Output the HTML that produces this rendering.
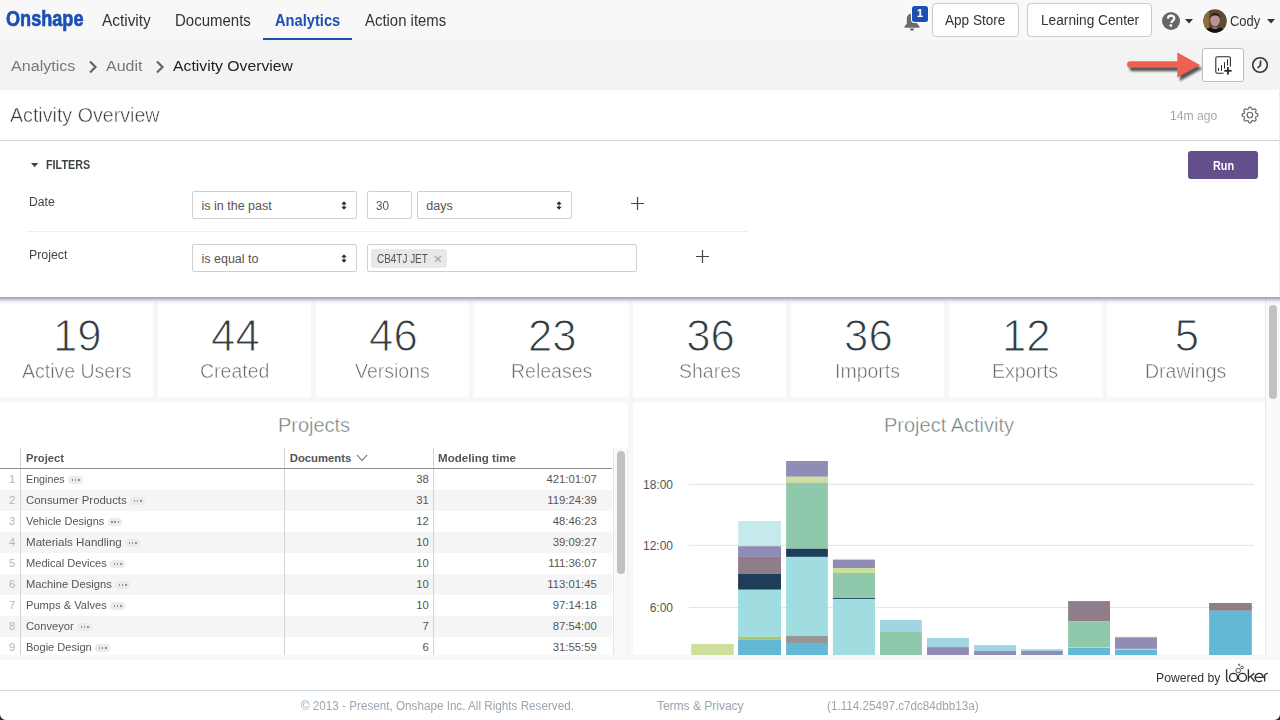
<!DOCTYPE html>
<html><head><meta charset="utf-8"><style>
html,body{margin:0;padding:0}
body{width:1280px;height:720px;overflow:hidden;position:relative;background:#fff;font-family:"Liberation Sans",sans-serif}
.t{position:absolute;white-space:nowrap;line-height:1;transform-origin:0 0}
.r{position:absolute}
</style></head><body>
<div class="r" style="left:0px;top:0px;width:1280px;height:40px;background:#f8f8f8;"></div>
<div class="r" style="left:0px;top:40px;width:1280px;height:50px;background:#f3f3f3;"></div>
<div class="r" style="left:0px;top:90px;width:1280px;height:50px;background:#fff;"></div>
<div class="r" style="left:0px;top:140px;width:1280px;height:1px;background:#ced2d6;"></div>
<div class="r" style="left:0px;top:141px;width:1280px;height:156px;background:#fff;"></div>
<div class="r" style="left:0px;top:297px;width:1280px;height:363px;background:#f6f7f9;"></div>
<div class="r" style="left:0px;top:660px;width:1280px;height:60px;background:#fff;"></div>
<div class="r" style="left:0px;top:690px;width:1280px;height:1px;background:#cdd8e1;"></div>
<div class="t" style="left:6.30px;top:7.65px;font-size:22.5px;color:#1b4fb4;font-weight:bold;transform:scaleX(0.8050);-webkit-text-stroke:0.7px #1b4fb4;">Onshape</div>
<div class="t" style="left:102.25px;top:12.71px;font-size:16px;color:#333;transform:scaleX(0.9621);">Activity</div>
<div class="t" style="left:174.60px;top:12.71px;font-size:16px;color:#333;transform:scaleX(0.9367);">Documents</div>
<div class="t" style="left:275.00px;top:12.71px;font-size:16px;color:#1b4fb4;font-weight:bold;transform:scaleX(0.9165);">Analytics</div>
<div class="r" style="left:263px;top:38px;width:89px;height:2px;background:#1b4fb4;"></div>
<div class="t" style="left:365.20px;top:12.71px;font-size:16px;color:#333;transform:scaleX(0.9318);">Action items</div>
<svg class="r" style="left:902px;top:11px" width="20" height="20" viewBox="0 0 20 20"><path d="M10 2.5c-3.2 0-5.2 2.4-5.2 5.6v4.6L2.5 15.6v1.2h15v-1.2l-2.3-2.9V8.1C15.2 4.9 13.2 2.5 10 2.5z" fill="#6b6b6b"/><path d="M7.8 17.6a2.2 2.2 0 0 0 4.4 0z" fill="#6b6b6b"/></svg>
<div class="r" style="left:912px;top:6px;width:16px;height:16px;background:#1b4fb4;border-radius:2.5px;box-shadow:0 0 0 1px #fff"></div>
<div class="t" style="left:916.64px;top:7.79px;font-size:11px;color:#fff;font-weight:bold;">1</div>
<div class="r" style="left:932px;top:3px;width:85px;height:32px;border:1px solid #c9c9c9;border-radius:4px;background:#fff"></div>
<div class="t" style="left:945.25px;top:13.15px;font-size:14px;color:#333;transform:scaleX(0.9701);">App Store</div>
<div class="r" style="left:1027px;top:3px;width:123px;height:32px;border:1px solid #c9c9c9;border-radius:4px;background:#fff"></div>
<div class="t" style="left:1040.60px;top:13.15px;font-size:14px;color:#333;transform:scaleX(0.9771);">Learning Center</div>
<svg class="r" style="left:1162px;top:12px" width="18" height="18" viewBox="0 0 18 18"><circle cx="9" cy="9" r="9" fill="#666"/><path d="M5.9 6.6C6 4.7 7.3 3.6 9.1 3.6c1.9 0 3.2 1.1 3.2 2.7 0 1.3-.8 2-1.7 2.6-.8.5-1 .8-1 1.6v.5" fill="none" stroke="#fff" stroke-width="2.2"/><rect x="7.5" y="12.2" width="2.6" height="2.5" rx="0.6" fill="#fff"/></svg>
<svg class="r" style="left:1185px;top:18.5px" width="8" height="5"><path d="M0 0h8L4 4.5z" fill="#333"/></svg>
<svg class="r" style="left:1202px;top:8px" width="26" height="26" viewBox="-1 -1 26 26"><defs><clipPath id="av"><circle cx="12" cy="12" r="11.8"/></clipPath><filter id="bl"><feGaussianBlur stdDeviation="0.6"/></filter></defs><circle cx="12" cy="12" r="12.6" fill="#fff"/><g clip-path="url(#av)"><rect x="-1" y="-1" width="26" height="26" fill="#5f4a33"/><g filter="url(#bl)"><rect x="1" y="0" width="5" height="24" fill="#8e6c40"/><ellipse cx="12" cy="11.5" rx="4.8" ry="6.2" fill="#b89590"/><path d="M7 9c0-3.2 2.2-5 5-5s5 1.8 5 5c-1.2-1.8-3-2.4-5-2.4S8.2 7.2 7 9z" fill="#2a201d"/><path d="M7.6 13c.8 3.2 2.4 4.6 4.4 4.6s3.6-1.4 4.4-4.6c.2 3.4-1.8 5.6-4.4 5.6s-4.6-2.2-4.4-5.6z" fill="#5a4540"/><path d="M9.5 18.5h5l.3 1.5h-5.6z" fill="#b59a8c"/></g><path d="M0 25c.6-4 4-6.2 8-6.6 1.2 1 2.5 1.4 4 1.4s2.8-.4 4-1.4c4 .4 7.4 2.6 8 6.6z" fill="#141414"/></g></svg>
<div class="t" style="left:1230.30px;top:13.95px;font-size:14px;color:#333;transform:scaleX(0.9241);">Cody</div>
<svg class="r" style="left:1267px;top:18.5px" width="8" height="5"><path d="M0 0h8L4 4.5z" fill="#333"/></svg>
<div class="t" style="left:10.60px;top:58.08px;font-size:15.5px;color:#777;transform:scaleX(1.0383);">Analytics</div>
<svg class="r" style="left:88px;top:60px" width="10" height="14"><path d="M2 1.5l5.5 5.5L2 12.5" fill="none" stroke="#666" stroke-width="2.2"/></svg>
<div class="t" style="left:105.60px;top:58.08px;font-size:15.5px;color:#777;transform:scaleX(1.0303);">Audit</div>
<svg class="r" style="left:155px;top:60px" width="10" height="14"><path d="M2 1.5l5.5 5.5L2 12.5" fill="none" stroke="#666" stroke-width="2.2"/></svg>
<div class="t" style="left:172.75px;top:58.08px;font-size:15.5px;color:#222;transform:scaleX(1.0170);">Activity Overview</div>
<svg class="r" style="left:1120px;top:46px" width="90" height="40" viewBox="1120 46 90 40"><defs><filter id="sh" x="-20%" y="-50%" width="140%" height="200%"><feGaussianBlur stdDeviation="1.3"/></filter></defs>
<g transform="translate(2.5,3.5)" filter="url(#sh)" opacity="0.75"><path d="M1130.3 61.3H1177.3V52.5L1200 65L1177.3 77.5V67.8H1130.3A3.25 3.25 0 0 1 1130.3 61.3Z" fill="#222"/></g>
<path d="M1130.3 61.3H1177.3V52.5L1200 65L1177.3 77.5V67.8H1130.3A3.25 3.25 0 0 1 1130.3 61.3Z" fill="#ee6150"/></svg>
<div class="r" style="left:1202px;top:48px;width:40px;height:32px;border:1px solid #bdbdbd;border-radius:3px;background:#fff"></div>
<svg class="r" style="left:1212px;top:53px" width="24" height="24" viewBox="1212 53 24 24"><path d="M1223.6 73.2H1217.3A1.5 1.5 0 0 1 1215.8 71.7V58.3A1.5 1.5 0 0 1 1217.3 56.8H1228.9A1.5 1.5 0 0 1 1230.4 58.3V66.6" fill="none" stroke="#2a2a2a" stroke-width="1.1"/><g fill="#2a2a2a"><rect x="1218" y="68" width="1" height="3"/><rect x="1221" y="65.2" width="1" height="5.8"/><rect x="1224" y="62.2" width="1" height="6.4"/><rect x="1227" y="59.2" width="1" height="6.4"/><rect x="1224.3" y="69.9" width="7.3" height="1.8"/><rect x="1227" y="67.1" width="1.8" height="7.5"/></g></svg>
<svg class="r" style="left:1251px;top:56px" width="18" height="18" viewBox="0 0 18 18"><circle cx="9" cy="9" r="7.3" fill="none" stroke="#333" stroke-width="1.6"/><path d="M9.6 4.5L9.4 9.3L6.6 12" fill="none" stroke="#333" stroke-width="1.6"/></svg>
<div class="t" style="left:9.80px;top:105.07px;font-size:20px;color:#353d41;transform:scaleX(0.9819);-webkit-text-stroke:0.45px #fff;">Activity Overview</div>
<div class="t" style="left:1170.40px;top:109.52px;font-size:12.5px;color:#888;transform:scaleX(0.9724);-webkit-text-stroke:0.2px #fff;">14m ago</div>
<svg class="r" style="left:1240px;top:105px" width="20" height="20" viewBox="1240 105 20 20"><path d="M1250.00 107.15 L1250.31 107.16 L1250.61 107.19 L1250.92 107.26 L1251.19 107.50 L1251.37 108.13 L1251.49 108.78 L1251.68 109.03 L1251.90 109.14 L1252.13 109.23 L1252.35 109.32 L1252.58 109.41 L1252.80 109.51 L1253.03 109.59 L1253.34 109.54 L1253.89 109.18 L1254.47 108.85 L1254.83 108.88 L1255.09 109.04 L1255.33 109.24 L1255.55 109.45 L1255.76 109.67 L1255.96 109.91 L1256.12 110.17 L1256.15 110.53 L1255.82 111.11 L1255.46 111.66 L1255.41 111.97 L1255.49 112.20 L1255.59 112.42 L1255.68 112.65 L1255.77 112.87 L1255.86 113.10 L1255.97 113.32 L1256.22 113.51 L1256.87 113.63 L1257.50 113.81 L1257.74 114.08 L1257.81 114.39 L1257.84 114.69 L1257.85 115.00 L1257.84 115.31 L1257.81 115.61 L1257.74 115.92 L1257.50 116.19 L1256.87 116.37 L1256.22 116.49 L1255.97 116.68 L1255.86 116.90 L1255.77 117.13 L1255.68 117.35 L1255.59 117.58 L1255.49 117.80 L1255.41 118.03 L1255.46 118.34 L1255.82 118.89 L1256.15 119.47 L1256.12 119.83 L1255.96 120.09 L1255.76 120.33 L1255.55 120.55 L1255.33 120.76 L1255.09 120.96 L1254.83 121.12 L1254.47 121.15 L1253.89 120.82 L1253.34 120.46 L1253.03 120.41 L1252.80 120.49 L1252.58 120.59 L1252.35 120.68 L1252.13 120.77 L1251.90 120.86 L1251.68 120.97 L1251.49 121.22 L1251.37 121.87 L1251.19 122.50 L1250.92 122.74 L1250.61 122.81 L1250.31 122.84 L1250.00 122.85 L1249.69 122.84 L1249.39 122.81 L1249.08 122.74 L1248.81 122.50 L1248.63 121.87 L1248.51 121.22 L1248.32 120.97 L1248.10 120.86 L1247.87 120.77 L1247.65 120.68 L1247.42 120.59 L1247.20 120.49 L1246.97 120.41 L1246.66 120.46 L1246.11 120.82 L1245.53 121.15 L1245.17 121.12 L1244.91 120.96 L1244.67 120.76 L1244.45 120.55 L1244.24 120.33 L1244.04 120.09 L1243.88 119.83 L1243.85 119.47 L1244.18 118.89 L1244.54 118.34 L1244.59 118.03 L1244.51 117.80 L1244.41 117.58 L1244.32 117.35 L1244.23 117.13 L1244.14 116.90 L1244.03 116.68 L1243.78 116.49 L1243.13 116.37 L1242.50 116.19 L1242.26 115.92 L1242.19 115.61 L1242.16 115.31 L1242.15 115.00 L1242.16 114.69 L1242.19 114.39 L1242.26 114.08 L1242.50 113.81 L1243.13 113.63 L1243.78 113.51 L1244.03 113.32 L1244.14 113.10 L1244.23 112.87 L1244.32 112.65 L1244.41 112.42 L1244.51 112.20 L1244.59 111.97 L1244.54 111.66 L1244.18 111.11 L1243.85 110.53 L1243.88 110.17 L1244.04 109.91 L1244.24 109.67 L1244.45 109.45 L1244.67 109.24 L1244.91 109.04 L1245.17 108.88 L1245.53 108.85 L1246.11 109.18 L1246.66 109.54 L1246.97 109.59 L1247.20 109.51 L1247.42 109.41 L1247.65 109.32 L1247.87 109.23 L1248.10 109.14 L1248.32 109.03 L1248.51 108.78 L1248.63 108.13 L1248.81 107.50 L1249.08 107.26 L1249.39 107.19 L1249.69 107.16Z" fill="none" stroke="#6f6868" stroke-width="1.2"/><circle cx="1249.9" cy="115" r="2.75" fill="none" stroke="#6f6868" stroke-width="1.2"/></svg>
<svg class="r" style="left:31px;top:163px" width="8" height="5"><path d="M0 0h7.2L3.6 4.2z" fill="#3d4549"/></svg>
<div class="t" style="left:46.20px;top:158.84px;font-size:12px;color:#3d4549;font-weight:bold;transform:scaleX(0.9000);">FILTERS</div>
<div class="r" style="left:1188px;top:151px;width:70px;height:28px;border-radius:3px;background:#634f8b"></div>
<div class="t" style="left:1212.50px;top:160.42px;font-size:12.5px;color:#fff;font-weight:bold;transform:scaleX(0.8684);">Run</div>
<div class="t" style="left:29.40px;top:195.72px;font-size:12.5px;color:#3d4549;transform:scaleX(0.9772);">Date</div>
<div class="t" style="left:29.40px;top:248.92px;font-size:12.5px;color:#3d4549;transform:scaleX(0.9871);">Project</div>
<div class="r" style="left:27px;top:231px;width:721px;height:1px;background:#eeeeee;"></div>
<div class="r" style="left:192px;top:191px;width:163px;height:26px;border:1px solid #cfcfcf;border-radius:2px;background:#fff"></div>
<div class="t" style="left:201.50px;top:200.22px;font-size:12.5px;color:#555;">is in the past</div>
<svg class="r" style="left:340.5px;top:201px" width="6" height="9"><path d="M3 0.3L5.6 3.2H0.4zM3 8.7L5.6 5.8H0.4z" fill="#222"/><rect x="2.5" y="3" width="1" height="3" fill="#222"/></svg>
<div class="r" style="left:367px;top:191px;width:43px;height:26px;border:1px solid #cfcfcf;border-radius:2px;background:#fff"></div>
<div class="t" style="left:376.00px;top:200.22px;font-size:12.5px;color:#555;transform:scaleX(0.9350);">30</div>
<div class="r" style="left:417px;top:191px;width:153px;height:26px;border:1px solid #cfcfcf;border-radius:2px;background:#fff"></div>
<div class="t" style="left:426.25px;top:200.22px;font-size:12.5px;color:#555;">days</div>
<svg class="r" style="left:555.5px;top:201px" width="6" height="9"><path d="M3 0.3L5.6 3.2H0.4zM3 8.7L5.6 5.8H0.4z" fill="#222"/><rect x="2.5" y="3" width="1" height="3" fill="#222"/></svg>
<svg class="r" style="left:631px;top:197px" width="13" height="13"><path d="M6.5 0v13M0 6.5h13" stroke="#444" stroke-width="1.2"/></svg>
<div class="r" style="left:192px;top:244px;width:163px;height:26px;border:1px solid #cfcfcf;border-radius:2px;background:#fff"></div>
<div class="t" style="left:201.50px;top:253.22px;font-size:12.5px;color:#555;">is equal to</div>
<svg class="r" style="left:340.5px;top:254px" width="6" height="9"><path d="M3 0.3L5.6 3.2H0.4zM3 8.7L5.6 5.8H0.4z" fill="#222"/><rect x="2.5" y="3" width="1" height="3" fill="#222"/></svg>
<div class="r" style="left:367px;top:244px;width:268px;height:26px;border:1px solid #cfcfcf;border-radius:2px;background:#fff"></div>
<div class="r" style="left:371px;top:248.5px;width:75.5px;height:19.5px;border-radius:3px;background:#e8e8ea"></div>
<div class="t" style="left:377.20px;top:252.84px;font-size:12px;color:#555;transform:scaleX(0.8281);">CB4TJ JET</div>
<svg class="r" style="left:433.5px;top:254.8px" width="8" height="8"><path d="M1 1l6 6M7 1l-6 6" stroke="#aaa" stroke-width="1.3"/></svg>
<svg class="r" style="left:696px;top:250px" width="13" height="13"><path d="M6.5 0v13M0 6.5h13" stroke="#444" stroke-width="1.2"/></svg>
<div class="r" style="left:1279px;top:90px;width:1px;height:207px;background:#ececec;"></div>
<div class="r" style="z-index:5;left:0;top:297px;width:1280px;height:9px;background:linear-gradient(rgba(135,144,162,0.82) 0,rgba(135,144,162,0.7) 1.2px,rgba(135,144,162,0.42) 2.8px,rgba(135,144,162,0.15) 4.5px,rgba(135,144,162,0.04) 6.5px,rgba(135,144,162,0) 9px)"></div>
<div class="r" style="left:0px;top:297px;width:152.8px;height:100px;background:#fff;"></div>
<div class="r" style="left:157.6px;top:297px;width:153.8px;height:100px;background:#fff;"></div>
<div class="r" style="left:315.8px;top:297px;width:153.4px;height:100px;background:#fff;"></div>
<div class="r" style="left:473.9px;top:297px;width:155.1px;height:100px;background:#fff;"></div>
<div class="r" style="left:633px;top:297px;width:153.1px;height:100px;background:#fff;"></div>
<div class="r" style="left:790.8px;top:297px;width:153.4px;height:100px;background:#fff;"></div>
<div class="r" style="left:948.6px;top:297px;width:153.6px;height:100px;background:#fff;"></div>
<div class="r" style="left:1106.8px;top:297px;width:158.2px;height:100px;background:#fff;"></div>
<div class="t" style="left:53.00px;top:314.01px;font-size:43.7px;color:#333b3f;-webkit-text-stroke:1.05px #fff;">19</div>
<div class="t" style="left:21.68px;top:360.87px;font-size:20px;color:#656d71;transform:scaleX(0.9750);-webkit-text-stroke:0.5px #fff;">Active Users</div>
<div class="t" style="left:211.10px;top:314.01px;font-size:43.7px;color:#333b3f;-webkit-text-stroke:1.05px #fff;">44</div>
<div class="t" style="left:199.81px;top:360.87px;font-size:20px;color:#656d71;transform:scaleX(0.9750);-webkit-text-stroke:0.5px #fff;">Created</div>
<div class="t" style="left:369.10px;top:314.01px;font-size:43.7px;color:#333b3f;-webkit-text-stroke:1.05px #fff;">46</div>
<div class="t" style="left:355.10px;top:360.87px;font-size:20px;color:#656d71;transform:scaleX(0.9750);-webkit-text-stroke:0.5px #fff;">Versions</div>
<div class="t" style="left:528.05px;top:314.01px;font-size:43.7px;color:#333b3f;-webkit-text-stroke:1.05px #fff;">23</div>
<div class="t" style="left:510.80px;top:360.87px;font-size:20px;color:#656d71;transform:scaleX(0.9750);-webkit-text-stroke:0.5px #fff;">Releases</div>
<div class="t" style="left:686.15px;top:314.01px;font-size:43.7px;color:#333b3f;-webkit-text-stroke:1.05px #fff;">36</div>
<div class="t" style="left:678.66px;top:360.87px;font-size:20px;color:#656d71;transform:scaleX(0.9750);-webkit-text-stroke:0.5px #fff;">Shares</div>
<div class="t" style="left:844.10px;top:314.01px;font-size:43.7px;color:#333b3f;-webkit-text-stroke:1.05px #fff;">36</div>
<div class="t" style="left:834.99px;top:360.87px;font-size:20px;color:#656d71;transform:scaleX(0.9750);-webkit-text-stroke:0.5px #fff;">Imports</div>
<div class="t" style="left:1002.00px;top:314.01px;font-size:43.7px;color:#333b3f;-webkit-text-stroke:1.05px #fff;">12</div>
<div class="t" style="left:992.35px;top:360.87px;font-size:20px;color:#656d71;transform:scaleX(0.9750);-webkit-text-stroke:0.5px #fff;">Exports</div>
<div class="t" style="left:1174.65px;top:314.01px;font-size:43.7px;color:#333b3f;-webkit-text-stroke:1.05px #fff;">5</div>
<div class="t" style="left:1145.26px;top:360.87px;font-size:20px;color:#656d71;transform:scaleX(0.9750);-webkit-text-stroke:0.5px #fff;">Drawings</div>
<div class="r" style="left:0px;top:297px;width:1265px;height:4.5px;background:#fff;"></div>
<div class="r" style="left:0px;top:402px;width:628px;height:253px;background:#fff;"></div>
<div class="r" style="left:633px;top:402px;width:632px;height:253px;background:#fff;"></div>
<div class="t" style="left:277.88px;top:415.32px;font-size:20px;color:#6f777b;-webkit-text-stroke:0.45px #fff;">Projects</div>
<div class="t" style="left:883.98px;top:414.97px;font-size:20px;color:#6f777b;-webkit-text-stroke:0.45px #fff;">Project Activity</div>
<div class="r" style="left:20px;top:448px;width:1px;height:207px;background:#d4d4d4;"></div>
<div class="r" style="left:284px;top:448px;width:1px;height:207px;background:#d4d4d4;"></div>
<div class="r" style="left:433px;top:448px;width:1px;height:207px;background:#d4d4d4;"></div>
<div class="r" style="left:0px;top:468px;width:612px;height:1px;background:#8e8e8e;"></div>
<div class="t" style="left:25.70px;top:453.13px;font-size:11.3px;color:#555;font-weight:bold;transform:scaleX(0.9919);">Project</div>
<div class="t" style="left:289.75px;top:453.03px;font-size:11.3px;color:#555;font-weight:bold;">Documents</div>
<svg class="r" style="left:356px;top:454px" width="12" height="8"><path d="M1 1l5 5.5L11 1" fill="none" stroke="#666" stroke-width="1.1"/></svg>
<div class="t" style="left:438.40px;top:453.03px;font-size:11.3px;color:#555;font-weight:bold;transform:scaleX(1.0268);">Modeling time</div>
<div class="r" style="left:0px;top:490px;width:20px;height:21px;background:#f5f5f5;"></div>
<div class="r" style="left:21px;top:490px;width:263px;height:21px;background:#f5f5f5;"></div>
<div class="r" style="left:285px;top:490px;width:148px;height:21px;background:#f5f5f5;"></div>
<div class="r" style="left:434px;top:490px;width:178px;height:21px;background:#f5f5f5;"></div>
<div class="r" style="left:0px;top:532px;width:20px;height:21px;background:#f5f5f5;"></div>
<div class="r" style="left:21px;top:532px;width:263px;height:21px;background:#f5f5f5;"></div>
<div class="r" style="left:285px;top:532px;width:148px;height:21px;background:#f5f5f5;"></div>
<div class="r" style="left:434px;top:532px;width:178px;height:21px;background:#f5f5f5;"></div>
<div class="r" style="left:0px;top:574px;width:20px;height:21px;background:#f5f5f5;"></div>
<div class="r" style="left:21px;top:574px;width:263px;height:21px;background:#f5f5f5;"></div>
<div class="r" style="left:285px;top:574px;width:148px;height:21px;background:#f5f5f5;"></div>
<div class="r" style="left:434px;top:574px;width:178px;height:21px;background:#f5f5f5;"></div>
<div class="r" style="left:0px;top:616px;width:20px;height:21px;background:#f5f5f5;"></div>
<div class="r" style="left:21px;top:616px;width:263px;height:21px;background:#f5f5f5;"></div>
<div class="r" style="left:285px;top:616px;width:148px;height:21px;background:#f5f5f5;"></div>
<div class="r" style="left:434px;top:616px;width:178px;height:21px;background:#f5f5f5;"></div>
<div class="t" style="left:9.12px;top:474.13px;font-size:11.3px;color:#b5b5b5;">1</div>
<div class="t" style="left:25.50px;top:473.97px;font-size:11.5px;color:#555;transform:scaleX(0.9312);">Engines</div>
<div class="r" style="left:68.0px;top:476.3px;width:14.6px;height:7.5px;border-radius:4px;background:#ebebeb"></div>
<div class="r" style="left:71.5px;top:479.4px;width:1.6px;height:1.6px;background:#939393"></div>
<div class="r" style="left:74.8px;top:479.4px;width:1.6px;height:1.6px;background:#939393"></div>
<div class="r" style="left:78.1px;top:479.4px;width:1.6px;height:1.6px;background:#939393"></div>
<div class="t" style="left:416.33px;top:474.13px;font-size:11.3px;color:#555;">38</div>
<div class="t" style="left:546.53px;top:474.13px;font-size:11.3px;color:#555;">421:01:07</div>
<div class="t" style="left:9.12px;top:495.13px;font-size:11.3px;color:#b5b5b5;">2</div>
<div class="t" style="left:25.50px;top:494.97px;font-size:11.5px;color:#555;transform:scaleX(0.9909);">Consumer Products</div>
<div class="r" style="left:130.0px;top:497.3px;width:14.6px;height:7.5px;border-radius:4px;background:#ebebeb"></div>
<div class="r" style="left:133.5px;top:500.4px;width:1.6px;height:1.6px;background:#939393"></div>
<div class="r" style="left:136.8px;top:500.4px;width:1.6px;height:1.6px;background:#939393"></div>
<div class="r" style="left:140.1px;top:500.4px;width:1.6px;height:1.6px;background:#939393"></div>
<div class="t" style="left:416.33px;top:495.13px;font-size:11.3px;color:#555;">31</div>
<div class="t" style="left:547.37px;top:495.13px;font-size:11.3px;color:#555;">119:24:39</div>
<div class="t" style="left:9.12px;top:516.13px;font-size:11.3px;color:#b5b5b5;">3</div>
<div class="t" style="left:25.50px;top:515.97px;font-size:11.5px;color:#555;transform:scaleX(0.9563);">Vehicle Designs</div>
<div class="r" style="left:107.5px;top:518.3px;width:14.6px;height:7.5px;border-radius:4px;background:#ebebeb"></div>
<div class="r" style="left:111.0px;top:521.4px;width:1.6px;height:1.6px;background:#939393"></div>
<div class="r" style="left:114.3px;top:521.4px;width:1.6px;height:1.6px;background:#939393"></div>
<div class="r" style="left:117.6px;top:521.4px;width:1.6px;height:1.6px;background:#939393"></div>
<div class="t" style="left:416.33px;top:516.13px;font-size:11.3px;color:#555;">12</div>
<div class="t" style="left:552.81px;top:516.13px;font-size:11.3px;color:#555;">48:46:23</div>
<div class="t" style="left:9.12px;top:537.13px;font-size:11.3px;color:#b5b5b5;">4</div>
<div class="t" style="left:25.50px;top:536.97px;font-size:11.5px;color:#555;transform:scaleX(1.0053);">Materials Handling</div>
<div class="r" style="left:125.0px;top:539.3px;width:14.6px;height:7.5px;border-radius:4px;background:#ebebeb"></div>
<div class="r" style="left:128.6px;top:542.4px;width:1.6px;height:1.6px;background:#939393"></div>
<div class="r" style="left:131.9px;top:542.4px;width:1.6px;height:1.6px;background:#939393"></div>
<div class="r" style="left:135.2px;top:542.4px;width:1.6px;height:1.6px;background:#939393"></div>
<div class="t" style="left:416.33px;top:537.13px;font-size:11.3px;color:#555;">10</div>
<div class="t" style="left:552.81px;top:537.13px;font-size:11.3px;color:#555;">39:09:27</div>
<div class="t" style="left:9.12px;top:558.13px;font-size:11.3px;color:#b5b5b5;">5</div>
<div class="t" style="left:25.50px;top:557.97px;font-size:11.5px;color:#555;transform:scaleX(0.9645);">Medical Devices</div>
<div class="r" style="left:110.0px;top:560.3px;width:14.6px;height:7.5px;border-radius:4px;background:#ebebeb"></div>
<div class="r" style="left:113.5px;top:563.4px;width:1.6px;height:1.6px;background:#939393"></div>
<div class="r" style="left:116.8px;top:563.4px;width:1.6px;height:1.6px;background:#939393"></div>
<div class="r" style="left:120.1px;top:563.4px;width:1.6px;height:1.6px;background:#939393"></div>
<div class="t" style="left:416.33px;top:558.13px;font-size:11.3px;color:#555;">10</div>
<div class="t" style="left:548.21px;top:558.13px;font-size:11.3px;color:#555;">111:36:07</div>
<div class="t" style="left:9.12px;top:579.13px;font-size:11.3px;color:#b5b5b5;">6</div>
<div class="t" style="left:25.50px;top:578.97px;font-size:11.5px;color:#555;transform:scaleX(0.9721);">Machine Designs</div>
<div class="r" style="left:115.0px;top:581.3px;width:14.6px;height:7.5px;border-radius:4px;background:#ebebeb"></div>
<div class="r" style="left:118.5px;top:584.4px;width:1.6px;height:1.6px;background:#939393"></div>
<div class="r" style="left:121.8px;top:584.4px;width:1.6px;height:1.6px;background:#939393"></div>
<div class="r" style="left:125.1px;top:584.4px;width:1.6px;height:1.6px;background:#939393"></div>
<div class="t" style="left:416.33px;top:579.13px;font-size:11.3px;color:#555;">10</div>
<div class="t" style="left:547.37px;top:579.13px;font-size:11.3px;color:#555;">113:01:45</div>
<div class="t" style="left:9.12px;top:600.13px;font-size:11.3px;color:#b5b5b5;">7</div>
<div class="t" style="left:25.50px;top:599.97px;font-size:11.5px;color:#555;transform:scaleX(0.9669);">Pumps &amp; Valves</div>
<div class="r" style="left:110.0px;top:602.3px;width:14.6px;height:7.5px;border-radius:4px;background:#ebebeb"></div>
<div class="r" style="left:113.5px;top:605.4px;width:1.6px;height:1.6px;background:#939393"></div>
<div class="r" style="left:116.8px;top:605.4px;width:1.6px;height:1.6px;background:#939393"></div>
<div class="r" style="left:120.1px;top:605.4px;width:1.6px;height:1.6px;background:#939393"></div>
<div class="t" style="left:416.33px;top:600.13px;font-size:11.3px;color:#555;">10</div>
<div class="t" style="left:552.81px;top:600.13px;font-size:11.3px;color:#555;">97:14:18</div>
<div class="t" style="left:9.12px;top:621.13px;font-size:11.3px;color:#b5b5b5;">8</div>
<div class="t" style="left:25.50px;top:620.97px;font-size:11.5px;color:#555;transform:scaleX(0.9702);">Conveyor</div>
<div class="r" style="left:77.0px;top:623.3px;width:14.6px;height:7.5px;border-radius:4px;background:#ebebeb"></div>
<div class="r" style="left:80.5px;top:626.4px;width:1.6px;height:1.6px;background:#939393"></div>
<div class="r" style="left:83.8px;top:626.4px;width:1.6px;height:1.6px;background:#939393"></div>
<div class="r" style="left:87.1px;top:626.4px;width:1.6px;height:1.6px;background:#939393"></div>
<div class="t" style="left:422.62px;top:621.13px;font-size:11.3px;color:#555;">7</div>
<div class="t" style="left:552.81px;top:621.13px;font-size:11.3px;color:#555;">87:54:00</div>
<div class="t" style="left:9.12px;top:642.13px;font-size:11.3px;color:#b5b5b5;">9</div>
<div class="t" style="left:25.50px;top:641.97px;font-size:11.5px;color:#555;transform:scaleX(0.9612);">Bogie Design</div>
<div class="r" style="left:95.0px;top:644.3px;width:14.6px;height:7.5px;border-radius:4px;background:#ebebeb"></div>
<div class="r" style="left:98.5px;top:647.4px;width:1.6px;height:1.6px;background:#939393"></div>
<div class="r" style="left:101.8px;top:647.4px;width:1.6px;height:1.6px;background:#939393"></div>
<div class="r" style="left:105.1px;top:647.4px;width:1.6px;height:1.6px;background:#939393"></div>
<div class="t" style="left:422.62px;top:642.13px;font-size:11.3px;color:#555;">6</div>
<div class="t" style="left:552.81px;top:642.13px;font-size:11.3px;color:#555;">31:55:59</div>
<div class="r" style="left:613px;top:448px;width:15px;height:207px;background:#f9f9f9;"></div>
<div class="r" style="left:613px;top:448px;width:1px;height:207px;background:#e6e6e6;"></div>
<div class="r" style="left:627px;top:448px;width:1px;height:207px;background:#efefef;"></div>
<div class="r" style="left:617.2px;top:450.8px;width:7.6px;height:123px;border-radius:4px;background:#c1c1c1"></div>
<div class="t" style="left:642.97px;top:478.64px;font-size:12px;color:#555;">18:00</div>
<div class="t" style="left:642.97px;top:539.54px;font-size:12px;color:#555;">12:00</div>
<div class="t" style="left:649.64px;top:601.64px;font-size:12px;color:#555;">6:00</div>
<svg class="r" style="left:633px;top:402px" width="632" height="253" viewBox="633 402 632 253"><rect x="689" y="483.9" width="565" height="1" fill="#e3e3e3"/><rect x="689" y="544.8" width="565" height="1" fill="#e3e3e3"/><rect x="689" y="606.9" width="565" height="1" fill="#e3e3e3"/><rect x="691.2" y="643.9" width="42.60" height="11.10" fill="#cde09b"/><rect x="738.1" y="521" width="42.90" height="24.60" fill="#c5eaec"/><rect x="738.1" y="545.6" width="42.90" height="0.60" fill="#a2d5e3"/><rect x="738.1" y="546.2" width="42.90" height="10.70" fill="#8f8db5"/><rect x="738.1" y="556.9" width="42.90" height="17.10" fill="#8f7e8a"/><rect x="738.1" y="574" width="42.90" height="15.75" fill="#1e3d5a"/><rect x="738.1" y="589.75" width="42.90" height="47.15" fill="#a1dde0"/><rect x="738.1" y="636.9" width="42.90" height="2.90" fill="#adc46a"/><rect x="738.1" y="639.8" width="42.90" height="15.20" fill="#62b8d5"/><rect x="786.1" y="461" width="41.80" height="15.80" fill="#8f8db5"/><rect x="786.1" y="476.8" width="41.80" height="5.30" fill="#cde09b"/><rect x="786.1" y="482.1" width="41.80" height="0.70" fill="#d7c99a"/><rect x="786.1" y="482.8" width="41.80" height="65.95" fill="#90c8ab"/><rect x="786.1" y="548.75" width="41.80" height="8.15" fill="#1e3d5a"/><rect x="786.1" y="556.9" width="41.80" height="79.00" fill="#a1dde0"/><rect x="786.1" y="635.9" width="41.80" height="8.00" fill="#969696"/><rect x="786.1" y="643.9" width="41.80" height="11.10" fill="#62b8d5"/><rect x="832.9" y="559.2" width="42.10" height="0.80" fill="#a2d5e3"/><rect x="832.9" y="560" width="42.10" height="8.00" fill="#8f8db5"/><rect x="832.9" y="568" width="42.10" height="4.90" fill="#cde09b"/><rect x="832.9" y="572.9" width="42.10" height="25.20" fill="#90c8ab"/><rect x="832.9" y="598.1" width="42.10" height="1.10" fill="#1e3d5a"/><rect x="832.9" y="599.2" width="42.10" height="55.80" fill="#a1dde0"/><rect x="880" y="620" width="41.90" height="12.00" fill="#a2d5e3"/><rect x="880" y="632" width="41.90" height="23.00" fill="#90c8ab"/><rect x="927" y="638" width="41.90" height="9.10" fill="#a2d5e3"/><rect x="927" y="647.1" width="41.90" height="7.90" fill="#8f8db5"/><rect x="974.1" y="645.1" width="41.90" height="5.90" fill="#a2d5e3"/><rect x="974.1" y="651" width="41.90" height="4.00" fill="#8f8db5"/><rect x="1021.1" y="649.2" width="41.70" height="1.80" fill="#a2d5e3"/><rect x="1021.1" y="651" width="41.70" height="4.00" fill="#8f8db5"/><rect x="1068.1" y="601.1" width="41.90" height="20.00" fill="#8f7e8a"/><rect x="1068.1" y="621.1" width="41.90" height="26.00" fill="#90c8ab"/><rect x="1068.1" y="647.1" width="41.90" height="0.90" fill="#a1dde0"/><rect x="1068.1" y="648" width="41.90" height="7.00" fill="#62b8d5"/><rect x="1115" y="636.9" width="42.00" height="0.90" fill="#8fc06a"/><rect x="1115" y="637.8" width="42.00" height="11.10" fill="#8f8db5"/><rect x="1115" y="648.9" width="42.00" height="1.10" fill="#a1dde0"/><rect x="1115" y="650" width="42.00" height="5.00" fill="#62b8d5"/><rect x="1209.1" y="603" width="42.70" height="7.80" fill="#8f7e8a"/><rect x="1209.1" y="610.8" width="42.70" height="44.20" fill="#62b8d5"/></svg>
<div class="r" style="left:1265px;top:297px;width:15px;height:358px;background:#fafafa;"></div>
<div class="r" style="left:1265px;top:297px;width:1px;height:358px;background:#e8e8e8;"></div>
<div class="r" style="left:1268.8px;top:304.8px;width:8px;height:94px;border-radius:4px;background:#c1c1c1"></div>
<div class="t" style="left:1155.80px;top:671.54px;font-size:12px;color:#333;transform:scaleX(1.0162);">Powered by</div>
<svg class="r" style="left:1220px;top:660px" width="52" height="26" viewBox="1220 660 52 26"><g fill="none" stroke="#2e2e2e" stroke-width="1.35"><path d="M1226.6 669.3v10.2c0 1.3.7 2 1.9 2.1"/><circle cx="1233.5" cy="677.4" r="4"/><circle cx="1242.4" cy="677.4" r="4"/><path d="M1248.4 669.3v12.3M1254.3 673.4l-5.6 4.4M1250.6 676.4l4 5.2"/><path d="M1255.2 677.3h8a4.1 4.1 0 1 0-1.2 3.1"/><path d="M1264.6 681.6v-5.2c0-2 1.3-3.1 3.3-3.1"/></g><g fill="none" stroke="#444" stroke-width="0.9"><circle cx="1238.2" cy="670.6" r="2.3"/><circle cx="1242.1" cy="667.4" r="1.3"/><circle cx="1239.2" cy="664.8" r="0.7"/></g></svg>
<div class="t" style="left:300.50px;top:700.14px;font-size:12px;color:#9ba5ae;transform:scaleX(0.9735);">© 2013 - Present, Onshape Inc. All Rights Reserved.</div>
<div class="t" style="left:656.90px;top:700.14px;font-size:12px;color:#9ba5ae;">Terms &amp; Privacy</div>
<div class="t" style="left:826.80px;top:700.14px;font-size:12px;color:#9ba5ae;transform:scaleX(0.9730);">(1.114.25497.c7dc84dbb13a)</div>
<svg class="r" style="z-index:9;left:0;top:712px" width="8" height="8" viewBox="0 712 8 8"><path d="M0 714.3A5.7 5.7 0 0 0 5.7 720H0Z" fill="#2b2b2b"/></svg>
<svg class="r" style="z-index:9;left:1272px;top:712px" width="8" height="8" viewBox="1272 712 8 8"><path d="M1280 714.3A5.7 5.7 0 0 1 1274.3 720H1280Z" fill="#2b2b2b"/></svg>
</body></html>
